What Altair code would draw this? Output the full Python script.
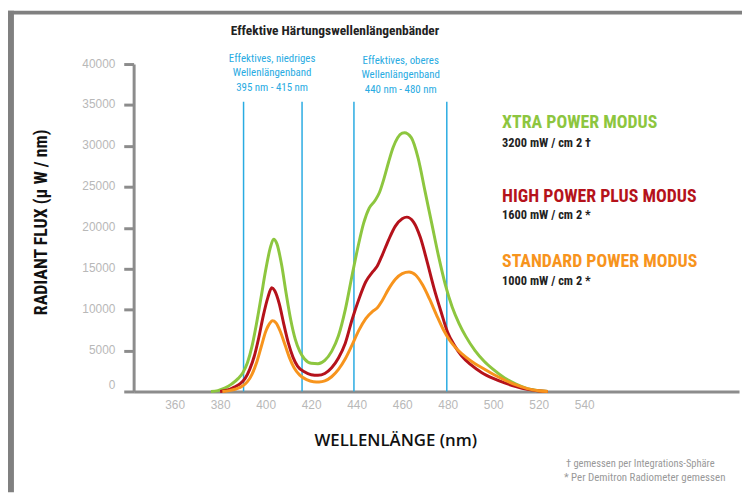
import altair as alt
import pandas as pd

# ---------------- data ----------------
x_tick_values = [360, 380, 400, 420, 440, 460, 480, 500, 520, 540]
y_tick_values = [0, 5000, 10000, 15000, 20000, 25000, 30000, 35000, 40000]
band_edges_nm = [390.3, 416.0, 438.8, 479.6]

series_names = ["XTRA POWER MODUS", "HIGH POWER PLUS MODUS", "STANDARD POWER MODUS"]
series_colors = ["#8dc63f", "#b5121b", "#f7941d"]

xtra_nm = [376, 379, 382, 385, 388, 390, 392, 394, 396,
           398, 400, 402, 403.5, 405, 407, 409, 411, 413, 415,
           417, 420, 423, 426, 429, 432, 435, 438, 441, 443,
           445.5, 448, 450, 452, 454, 456, 458, 460, 461, 464,
           467, 470, 473, 476, 479, 482, 485, 488, 492, 496,
           500, 505, 510, 515, 520, 524]
xtra_flux = [0, 100, 400, 900, 1600, 2300, 3500, 5500, 8300,
             11500, 14800, 17500, 18600, 18000, 15500, 12000, 8800, 6400, 4900,
             4000, 3450, 3400, 3800, 4900, 6800, 10000, 14200, 18200, 20500,
             22400, 23300, 24300, 26000, 28000, 29800, 31000, 31550, 31600, 31000,
             28500, 24500, 20500, 16500, 13000, 10300, 8300, 6700, 5000, 3700,
             2700, 1650, 900, 350, 90, 0]

high_nm = [380, 383, 386, 389, 391, 393, 395, 397, 399,
           401, 402.7, 404, 406, 408, 410, 412, 414, 417, 420,
           423, 426, 429, 432, 435, 438, 441, 444, 447, 449,
           451, 454, 457, 460, 462, 465, 468, 471, 474, 477,
           480, 483, 486, 490, 495, 500, 505, 510, 515, 520,
           524]
high_flux = [0, 150, 500, 1000, 1600, 2700, 4300, 6600, 9300,
             11500, 12660, 12300, 10700, 8200, 5900, 4200, 3100, 2400, 2050,
             1980, 2200, 2900, 4100, 5900, 8800, 11300, 13400, 14600, 15300,
             16500, 18500, 20200, 21100, 21300, 20700, 18800, 15800, 12600, 9800,
             7200, 5600, 4400, 3300, 2300, 1600, 1050, 600, 260, 70,
             0]

std_nm = [381, 384, 387, 390, 392, 394, 396, 398, 400,
          402, 403, 404.5, 406.5, 408.5, 410.5, 412.5, 415, 418, 421,
          423.5, 426, 429, 432, 435, 438, 441, 444, 447, 449,
          451, 454, 457, 460, 463, 466, 469, 472, 475, 478,
          481, 484, 488, 492, 496, 500, 505, 510, 515, 520,
          524]
std_flux = [0, 100, 300, 700, 1200, 2100, 3500, 5400, 7300,
            8400, 8630, 8400, 7300, 5700, 4100, 2900, 2000, 1450, 1200,
            1170, 1300, 1800, 2700, 4000, 5700, 7500, 8900, 9800, 10200,
            11000, 12500, 13700, 14400, 14600, 14200, 13000, 11300, 9400, 7600,
            6200, 5200, 4200, 3400, 2750, 2100, 1400, 800, 350, 90,
            0]

title_text = "Effektive Härtungswellenlängenbänder"
band_low_text = "Effektives, niedriges\nWellenlängenband\n395 nm - 415 nm"
band_high_text = "Effektives, oberes\nWellenlängenband\n440 nm - 480 nm"
legend_sub = ["3200 mW / cm 2 †", "1600 mW / cm 2 *", "1000 mW / cm 2 *"]
y_title = "RADIANT FLUX (µ W / nm)"
x_title = "WELLENLÄNGE (nm)"
footnotes = ["† gemessen per Integrations-Sphäre", "* Per Demitron Radiometer gemessen"]

# ---------------- build table ----------------
rows = []
for name, nms, vals in zip(series_names, [xtra_nm, high_nm, std_nm], [xtra_flux, high_flux, std_flux]):
    for n, v in zip(nms, vals):
        rows.append({"series": name, "nm": n, "flux": v})
df = pd.DataFrame(rows)

W, H = 612, 331
NARROW = "Liberation Sans Narrow, Roboto Condensed, DejaVu Sans Condensed, sans-serif"
AXIS_GRAY = "#8c8c8c"
LABEL_GRAY = "#b8b8b8"

xscale = alt.Scale(domain=[342, 608], nice=False, zero=False)
yscale = alt.Scale(domain=[0, 40000], nice=False)

lines = alt.Chart(df).mark_line(interpolate="monotone", strokeWidth=3).encode(
    x=alt.X("nm:Q", scale=xscale,
            axis=alt.Axis(values=x_tick_values, title=None, grid=False, ticks=False,
                          labelPadding=8, labelColor=LABEL_GRAY, labelFontSize=12,
                          labelFont="Liberation Sans", domainColor=AXIS_GRAY,
                          domainWidth=3, labelFlush=False)),
    y=alt.Y("flux:Q", scale=yscale,
            axis=alt.Axis(values=y_tick_values, title=None, grid=False, format="d",
                          tickSize=10, tickWidth=3, tickColor=AXIS_GRAY,
                          domainColor=AXIS_GRAY, domainWidth=3, labelPadding=9,
                          labelColor=LABEL_GRAY, labelFontSize=12,
                          labelFont="Liberation Sans", labelFlush=False,
                          labelOffset={"condition": {"test": "datum.value == 0", "value": -7},
                                       "value": -1})),
    color=alt.Color("series:N", scale=alt.Scale(domain=series_names, range=series_colors),
                    legend=None),
    detail="series:N",
)

bands = alt.Chart(pd.DataFrame({"nm": band_edges_nm})).mark_rule(
    color="#29abe2", strokeWidth=1.5).encode(
    x=alt.X("nm:Q", scale=xscale), y=alt.value(38), y2=alt.value(H))


def txt(text, x, y, size, color, weight="normal", font=NARROW, align="left",
        angle=0, line_height=None):
    kw = dict(fontSize=size, color=color, fontWeight=weight, font=font, align=align,
              baseline="middle", angle=angle)
    if line_height is not None:
        kw["lineBreak"] = "\n"
        kw["lineHeight"] = line_height
    return alt.Chart(pd.DataFrame({"t": [text]})).mark_text(**kw).encode(
        text="t:N", x=alt.value(x), y=alt.value(y))


frame_top = alt.Chart(pd.DataFrame({"a": [0]})).mark_rule(
    color="#808080", strokeWidth=4).encode(
    x=alt.value(-127), x2=alt.value(W + 3), y=alt.value(-52))
frame_left = alt.Chart(pd.DataFrame({"a": [0]})).mark_rule(
    color="#808080", strokeWidth=6).encode(
    x=alt.value(-124), y=alt.value(-54), y2=alt.value(433))

texts = [
    txt(title_text, 203.5, -33, 13.6, "#222222", weight="bold", align="center"),
    txt(band_low_text, 140, -5, 11, "#29abe2", align="center", line_height=14.5),
    txt(band_high_text, 270, -3, 11, "#29abe2", align="center", line_height=14.5),
    txt(series_names[0], 372.5, 59.7, 18, series_colors[0], weight="bold"),
    txt(legend_sub[0], 372.5, 79.7, 12.5, "#222222", weight="bold"),
    txt(series_names[1], 372.5, 134, 18, series_colors[1], weight="bold"),
    txt(legend_sub[1], 372.5, 153, 12.5, "#222222", weight="bold"),
    txt(series_names[2], 372.5, 200.3, 18, series_colors[2], weight="bold"),
    txt(legend_sub[2], 372.5, 219.7, 12.5, "#222222", weight="bold"),
    txt(y_title, -93, 160, 18, "#111111", weight="bold", align="center", angle=270),
    txt(x_title, 265, 381, 17, "#111111", weight=600, font="Open Sans", align="center"),
    txt(footnotes[0], 437, 404, 10.6, "#999999"),
    txt(footnotes[1], 435, 418, 11, "#999999"),
]

chart = alt.layer(frame_top, frame_left, bands, lines, *texts).properties(
    width=W, height=H,
    padding={"left": 127, "top": 54, "right": 3, "bottom": 102},
    autosize=alt.AutoSizeParams(type="none"),
    background="white",
).configure_view(stroke=None)

chart.save("out.html", embed_options={"renderer": "svg", "actions": False})
